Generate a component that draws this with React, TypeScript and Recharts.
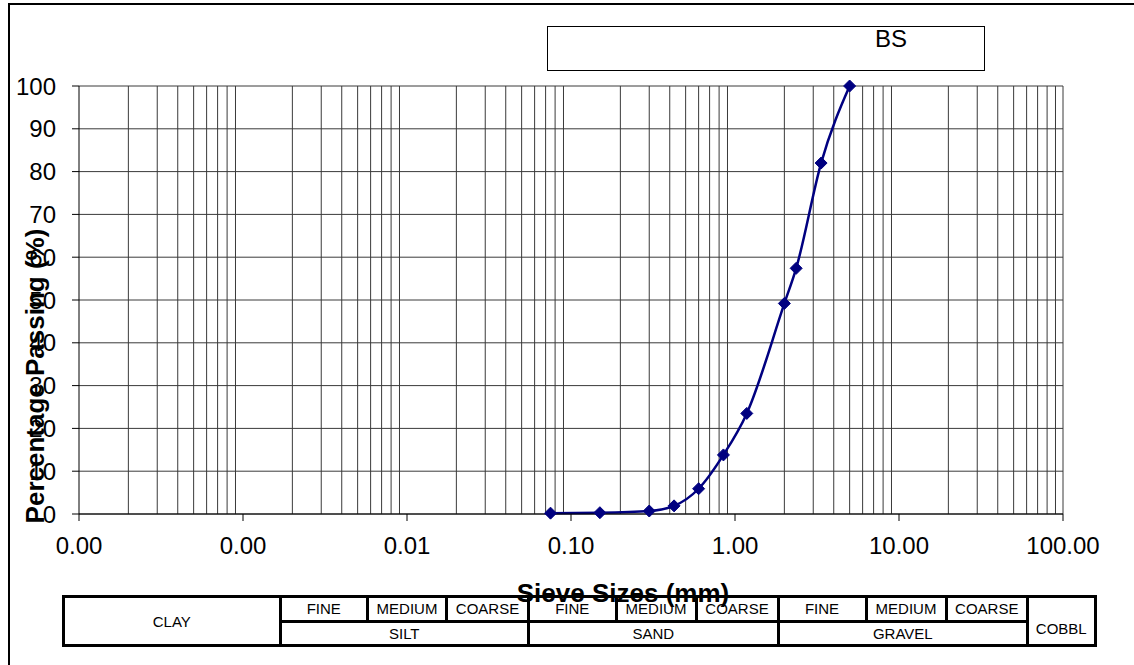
import { LineChart, Line, XAxis, YAxis, CartesianGrid, ReferenceLine, Legend, Label } from 'recharts';

const FONT = 'Arial, "Liberation Sans", sans-serif';

// sieve analysis, sample BS
const sieveSizes = [0.075, 0.15, 0.3, 0.425, 0.6, 0.85, 1.18, 2, 2.36, 3.35, 5];
const percentPassing = [0.2, 0.3, 0.7, 1.9, 5.9, 13.8, 23.5, 49.2, 57.4, 82.0, 100];
const seriesName = 'BS';

const xTicks = [0.0001, 0.001, 0.01, 0.1, 1, 10, 100];
const yTicks = [0, 10, 20, 30, 40, 50, 60, 70, 80, 90, 100];

// minor log gridlines: 1..9 x each decade
const decades = [0.0001, 0.001, 0.01, 0.1, 1, 10];
const minorGrid = decades.flatMap((d) => [2, 3, 4, 5, 6, 7, 8, 9].map((m) => m * d)).concat([100]);

const data = sieveSizes.map((size, i) => ({ size, passing: percentPassing[i] }));

// soil classification strip under the chart
const tableCells = [
  { text: 'CLAY', x0: 63.5, x1: 280, row: 'full' },
  { text: 'FINE', x0: 280, x1: 367.5, row: 'top' },
  { text: 'MEDIUM', x0: 367.5, x1: 446.5, row: 'top' },
  { text: 'COARSE', x0: 446.5, x1: 528.5, row: 'top' },
  { text: 'SILT', x0: 280, x1: 528.5, row: 'bottom' },
  { text: 'FINE', x0: 528.5, x1: 616, row: 'top' },
  { text: 'MEDIUM', x0: 616, x1: 696, row: 'top' },
  { text: 'COARSE', x0: 696, x1: 778, row: 'top' },
  { text: 'SAND', x0: 528.5, x1: 778, row: 'bottom' },
  { text: 'FINE', x0: 778, x1: 866, row: 'top' },
  { text: 'MEDIUM', x0: 866, x1: 946, row: 'top' },
  { text: 'COARSE', x0: 946, x1: 1027.5, row: 'top' },
  { text: 'GRAVEL', x0: 778, x1: 1027.5, row: 'bottom' },
  { text: 'COBBL', x0: 1027.5, x1: 1095, row: 'full' },
];
const ROW_TOP = 596.5;
const ROW_MID = 621;
const ROW_BOTTOM = 645.5;

const GRID = '#3a3a3a';

function Diamond({ cx, cy }: { cx?: number; cy?: number }) {
  if (cx == null || cy == null) return null;
  const r = 6;
  return <path d={`M${cx},${cy - r}L${cx + r},${cy}L${cx},${cy + r}L${cx - r},${cy}Z`} fill="#000080" stroke="#000080" />;
}

function LegendBox({ payload }: any) {
  const name = payload && payload[0] ? payload[0].value : seriesName;
  return (
    <div style={{ position: 'relative', width: 438, height: 45, border: '1px solid #000', boxSizing: 'border-box', background: '#fff' }}>
      <span style={{ position: 'absolute', left: 327, top: 0, fontFamily: FONT, fontSize: 24, lineHeight: '24px', color: '#000' }}>{name}</span>
    </div>
  );
}

function ClassTable() {
  return (
    <>
      {tableCells.map((c, i) => {
        const top = c.row === 'bottom' ? ROW_MID : ROW_TOP;
        const bottom = c.row === 'top' ? ROW_MID : ROW_BOTTOM;
        return (
          <div
            key={i}
            style={{
              position: 'absolute',
              left: c.x0 - 1.5,
              top: top - 1.5,
              width: c.x1 - c.x0 + 3,
              height: bottom - top + 3,
              border: '3px solid #000',
              boxSizing: 'border-box',
              display: 'flex',
              alignItems: 'center',
              justifyContent: 'center',
              paddingTop: c.text === 'COBBL' ? 14 : 0,
              fontFamily: FONT,
              fontSize: 15,
              color: '#000',
              background: '#fff',
            }}
          >
            {c.text}
          </div>
        );
      })}
    </>
  );
}

export default function App() {
  return (
    <div style={{ position: 'absolute', left: 0, top: 0, width: 1134, height: 665, overflow: 'hidden', background: '#fff' }}>
      <div style={{ position: 'absolute', left: 8, top: 3, width: 1140, height: 700, border: '2px solid #000', boxSizing: 'border-box' }} />
      <ClassTable />
      <div style={{ position: 'absolute', left: 0, top: 0 }}>
        <LineChart width={1134} height={665} data={data} margin={{ top: 86, right: 71, bottom: 111, left: 19 }}>
          <CartesianGrid vertical={false} stroke={GRID} strokeWidth={1} />
          {minorGrid.map((v) => (
            <ReferenceLine key={v} x={v} stroke={GRID} strokeWidth={1} />
          ))}
          <XAxis
            dataKey="size"
            type="number"
            scale="log"
            domain={[0.0001, 100]}
            allowDataOverflow
            ticks={xTicks}
            tickFormatter={(v: number) => v.toFixed(2)}
            interval={0}
            height={40}
            tickSize={7}
            tickMargin={16}
            stroke="#000"
            tick={{ fill: '#000', fontSize: 24, fontFamily: FONT }}
          >
            <Label
              content={({ viewBox }: any) => (
                <text
                  x={viewBox.x + viewBox.width / 2 + 52}
                  y={viewBox.y + 88}
                  textAnchor="middle"
                  fontFamily={FONT}
                  fontSize={26}
                  fontWeight="bold"
                  fill="#000"
                >
                  Sieve Sizes (mm)
                </text>
              )}
            />
          </XAxis>
          <YAxis
            type="number"
            domain={[0, 100]}
            ticks={yTicks}
            interval={0}
            width={60}
            tickSize={7}
            tickMargin={16}
            stroke="#000"
            tick={{ fill: '#000', fontSize: 24, fontFamily: FONT }}
          >
            <Label
              content={({ viewBox }: any) => {
                const cx = viewBox.x + 16;
                const cy = viewBox.y + viewBox.height / 2 + 76;
                return (
                  <text
                    x={cx}
                    y={cy}
                    transform={`rotate(-90 ${cx} ${cy})`}
                    textAnchor="middle"
                    dominantBaseline="central"
                    fontFamily={FONT}
                    fontSize={26}
                    fontWeight="bold"
                    fill="#000"
                  >
                    Percentage Passing (%)
                  </text>
                );
              }}
            />
          </YAxis>
          <Legend
            verticalAlign="middle"
            align="center"
            layout="horizontal"
            content={<LegendBox />}
            wrapperStyle={{ position: 'absolute', left: 547, top: 26, width: 438, height: 45 }}
          />
          <Line
            name={seriesName}
            dataKey="passing"
            type="monotone"
            stroke="#000080"
            strokeWidth={2.5}
            dot={(p: any) => <Diamond key={p.index} cx={p.cx} cy={p.cy} />}
            activeDot={false}
            isAnimationActive={false}
          />
        </LineChart>
      </div>
    </div>
  );
}
